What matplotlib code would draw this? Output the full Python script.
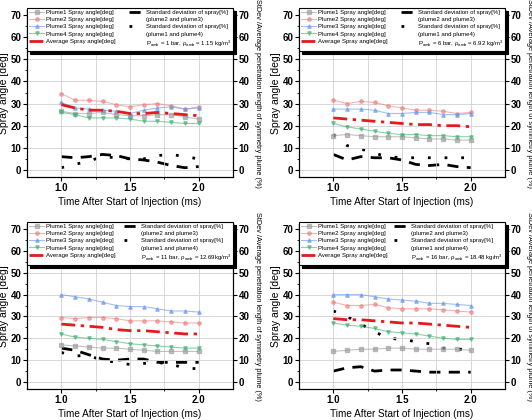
import numpy as np
import matplotlib
matplotlib.use('Agg')
import matplotlib.pyplot as plt
from matplotlib.lines import Line2D

plt.rcParams['font.family'] = ['Liberation Sans', 'DejaVu Sans']
plt.rcParams['font.weight'] = 'bold'
plt.rcParams['mathtext.default'] = 'regular'

time_ms = [1.0, 1.1, 1.2, 1.3, 1.4, 1.5, 1.6, 1.7, 1.8, 1.9, 2.0]

# one entry per ambient condition: 1, 6, 11, 16 bar
cond_labels = [
    r'P$_{amb}$ = 1 bar, $\rho_{amb}$ = 1.15 kg/m$^3$',
    r'P$_{amb}$ = 6 bar, $\rho_{amb}$ = 6.92 kg/m$^3$',
    r'P$_{amb}$ = 11 bar, $\rho_{amb}$ = 12.69kg/m$^3$',
    r'P$_{amb}$ = 16 bar, $\rho_{amb}$ = 18.48 kg/m$^3$',
]

plume1 = [
    [26.5, 25.5, 25.5, 26, 25, 24.5, 24.5, 25, 25, 24, 23],
    [15.5, 16, 15.5, 15, 15, 15, 14.5, 14, 14, 13.5, 13.5],
    [17, 16.5, 16, 15.5, 15.5, 15, 14.5, 14, 14, 14, 14],
    [14, 14.5, 15, 15, 15.5, 15.5, 15, 15, 15, 15, 14.5],
]
plume2 = [
    [34.5, 31.5, 31.5, 31, 29.5, 28.5, 29.5, 30, 29, 27.5, 28.5],
    [31.5, 30, 31, 30.5, 29, 28, 27, 27, 26.5, 25.5, 26],
    [29.5, 29, 29.5, 29.5, 29, 28, 28, 28, 27.5, 27, 27],
    [36.5, 35, 35, 35.5, 34, 33.5, 33.5, 33.5, 33, 32.5, 32],
]
plume3 = [
    [30.5, 28, 27.5, 27, 26.5, 25.5, 27, 28, 28.5, 27.5, 28],
    [27.5, 27.5, 27.5, 27, 25.5, 25.5, 26, 26, 25, 25, 25.5],
    [40, 39, 38, 36.5, 35, 34.5, 34.5, 33.5, 32.5, 32.5, 32],
    [40, 40, 40, 39, 38, 37.5, 37, 36, 36, 35.5, 35],
]
plume4 = [
    [26, 25, 23.5, 23.5, 23.5, 23, 22, 22, 21.5, 21, 21],
    [21, 19.5, 18.5, 17.5, 16.5, 16, 16, 15.5, 15.5, 15, 15],
    [22, 20.5, 20, 19.5, 18.5, 17.5, 17, 16.5, 16, 15.5, 15.5],
    [27, 26, 25.5, 24.5, 23, 22.5, 22, 21, 20, 19.5, 19.5],
]
average = [
    [29.5, 28, 27, 27, 26.5, 25.5, 25.5, 26, 25.5, 25, 24.5],
    [23.5, 23, 22.5, 22, 21.5, 21, 20.5, 20.5, 20, 20, 19.5],
    [26.5, 26, 25.5, 25, 24, 23.5, 23.5, 23, 22.5, 22, 22],
    [29, 28.5, 28.5, 28, 27.5, 27, 27, 26.5, 26, 25.5, 25],
]
std_23 = [
    [6, 5.5, 6, 7, 6.5, 5, 4.5, 3.5, 2, 1, 1.5],
    [7, 4.5, 6, 5.5, 5.5, 4.5, 2.5, 2, 2.5, 1.5, 1],
    [15.5, 14.5, 12.5, 10.5, 10, 10.5, 10.5, 9, 9, 9, 9],
    [5, 6.5, 7, 5, 5.5, 5.5, 5, 4.5, 4.5, 4.5, 4.5],
]
std_14 = [
    [1, 2.5, 4, 6, 5.5, 5, 5, 6.5, 7, 6, 5],
    [16, 11, 9.5, 7.5, 6, 5.5, 5.5, 5.5, 5.5, 5.5, 5.5],
    [13.5, 12, 12, 10, 9, 8, 8.5, 9, 8, 6.5, 6],
    [32.5, 30, 26.5, 23, 20, 19.5, 18.5, 17.5, 15.5, 15, 15],
]

fig = plt.figure(figsize=(5.32, 4.20), dpi=100)
W, H = 532.0, 420.0
boxes = [(27, 10, 206, 167), (299, 10, 206, 167),
         (27, 224, 206, 165), (299, 224, 206, 165)]

for i, (l, t, w, h) in enumerate(boxes):
    ax = fig.add_axes([l / W, 1 - (t + h) / H, w / W, h / H])
    ax2 = ax.twinx()

    p1, = ax.plot(time_ms, plume1[i], '-s', color='#999999', lw=0.8, ms=2.5, alpha=0.6)
    p2, = ax.plot(time_ms, plume2[i], '-o', color='#f08080', lw=0.8, ms=2.5, alpha=0.6)
    p3, = ax.plot(time_ms, plume3[i], '-^', color='#6495ed', lw=0.8, ms=2.5, alpha=0.6)
    p4, = ax.plot(time_ms, plume4[i], '-v', color='#3cb371', lw=0.8, ms=2.5, alpha=0.6)
    pa, = ax.plot(time_ms, average[i], color='#e41a1c', lw=2, dashes=(5, 2, 1.2, 2))
    s1, = ax2.plot(time_ms, std_23[i], color='black', lw=2, dashes=(4, 3))
    s2, = ax2.plot(time_ms, std_14[i], color='black', lw=2, dashes=(1, 5))

    for a in (ax, ax2):
        a.set_ylim(-3.2, 72.3)
        a.set_yticks(np.arange(0, 71, 10))
        a.tick_params(labelsize=7, length=3, pad=1)
    ax.set_xlim(0.75, 2.25)
    ax.set_xticks([1.0, 1.5, 2.0])
    ax.set_xticks([1.25, 1.75], minor=True)
    ax.set_yticks(np.arange(0, 71, 5), minor=True)
    ax.tick_params(which='minor', length=1.5)
    ax.grid(True, which='major', color='#d0d0d0', lw=0.6)
    ax.grid(True, which='minor', axis='x', color='#d0d0d0', lw=0.6)
    ax.set_axisbelow(True)

    ax.set_xlabel('Time After Start of Injection (ms)', fontsize=7.2, labelpad=3)
    ax.set_ylabel('Spray angle [deg]', fontsize=7.5, labelpad=1)
    ax2.set_ylabel('StDev /Average penetration length of symmetry plume (%)',
                   fontsize=5.3, rotation=270, labelpad=8, fontweight='normal')

    blank = Line2D([], [], color='none')
    handles = [p1, p2, p3, p4, pa, s1, blank, s2, blank, blank]
    labels = ['Plume1 Spray angle[deg]', 'Plume2 Spray angle[deg]',
              'Plume3 Spray angle[deg]', 'Plume4 Spray angle[deg]',
              'Average Spray angle[deg]',
              'Standard deviation of spray[%]', '(plume2 and plume3)',
              'Standard deviation of spray[%]', '(plume1 and plume4)',
              cond_labels[i]]
    leg = ax.legend(handles, labels, ncol=2, loc='upper left',
                    bbox_to_anchor=(0, 1.012, 1, 0), mode='expand',
                    prop={'size': 4.3, 'weight': 'normal'},
                    frameon=True, fancybox=False,
                    edgecolor='black', framealpha=1,
                    shadow={'color': 'black', 'alpha': 1},
                    borderaxespad=0.0, borderpad=0.35, labelspacing=0.32,
                    handlelength=2.5, handletextpad=0.3, columnspacing=0.3)
    leg.get_frame().set_linewidth(0.8)
    leg.set_zorder(10)
    ax.set_zorder(ax2.get_zorder() + 1)
    ax.patch.set_visible(False)

fig.savefig('out.png', dpi=100)
